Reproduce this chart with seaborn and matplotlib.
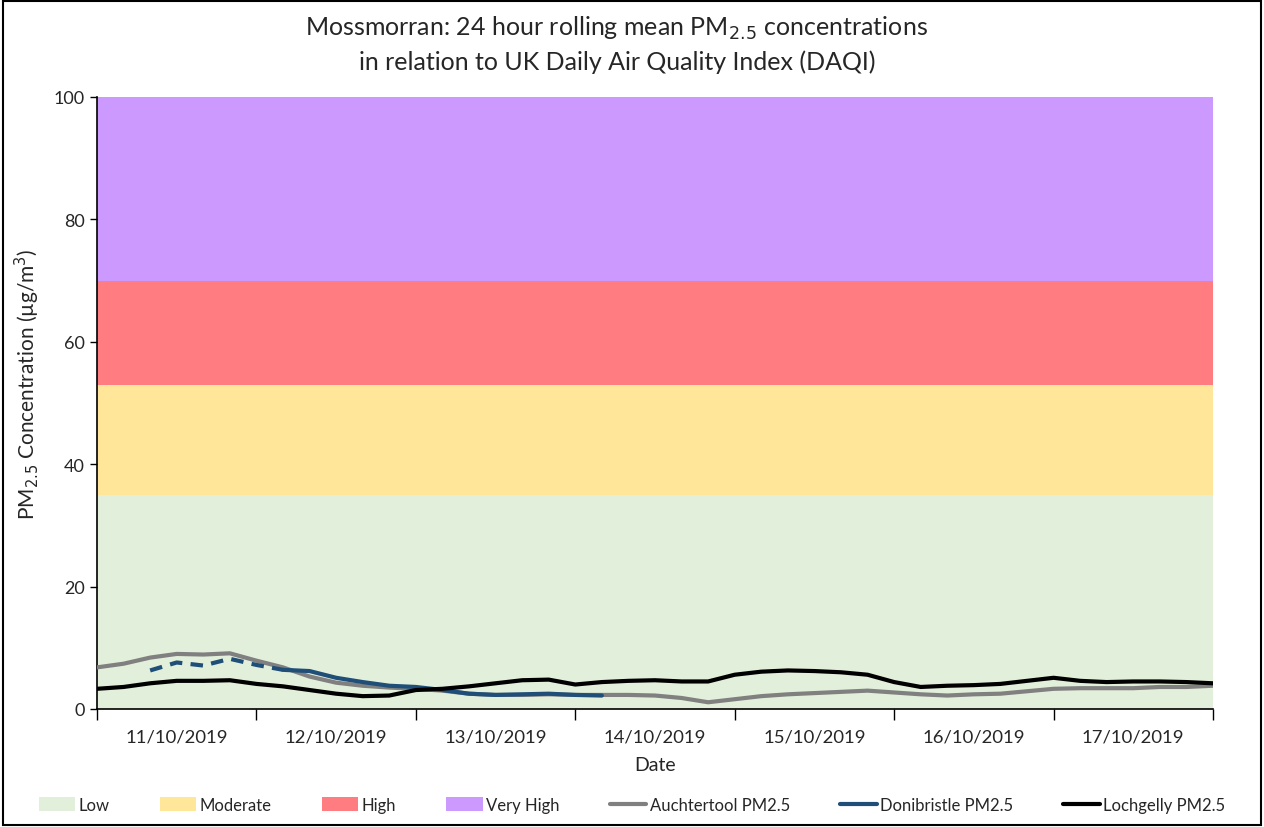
import numpy as np
import pandas as pd
import matplotlib
matplotlib.use("Agg")
import matplotlib.pyplot as plt
import matplotlib.dates as mdates
from matplotlib.patches import Patch, Rectangle
from matplotlib.lines import Line2D
import seaborn as sns

# ---- data ----
band_names = ["Low", "Moderate", "High", "Very High"]
band_lower = [0, 35, 53, 70]
band_upper = [35, 53, 70, 100]
band_colors = ["#E2EFDA", "#FFE699", "#FF7C80", "#CC99FF"]

start = pd.Timestamp("2019-10-11 00:00")
times = pd.date_range(start, periods=43, freq="4h")

auchtertool = [6.8, 7.4, 8.4, 9.0, 8.9, 9.1, 7.9, 6.8, 5.3, 4.3, 3.8, 3.5, 3.3,
               3.0, 2.5, 2.3, 2.3, 2.4, 2.3, 2.3, 2.3, 2.2, 1.8, 1.1, 1.6,
               2.1, 2.4, 2.6, 2.8, 3.0, 2.7, 2.4, 2.2, 2.4, 2.5, 2.9, 3.3,
               3.4, 3.4, 3.4, 3.6, 3.6, 3.8]

lochgelly = [3.3, 3.6, 4.2, 4.6, 4.6, 4.7, 4.1, 3.7, 3.1, 2.5, 2.1, 2.2, 3.1,
             3.3, 3.7, 4.2, 4.7, 4.8, 4.0, 4.4, 4.6, 4.7, 4.5, 4.5, 5.6,
             6.1, 6.3, 6.2, 6.0, 5.6, 4.4, 3.6, 3.8, 3.9, 4.1, 4.6, 5.1,
             4.6, 4.4, 4.5, 4.5, 4.4, 4.2]

# Donibristle: dashed (gappy) part then solid part
doni_dashed_idx = [2, 3, 4, 5, 6, 7]
doni_dashed = [6.3, 7.6, 7.1, 8.2, 7.2, 6.4]
doni_solid_idx = [7, 8, 9, 10, 11, 12, 13, 14, 15, 16, 17, 18, 19]
doni_solid = [6.4, 6.2, 5.1, 4.4, 3.8, 3.6, 3.1, 2.5, 2.3, 2.4, 2.5, 2.3, 2.2]

series_names = ["Auchtertool PM2.5", "Donibristle PM2.5", "Lochgelly PM2.5"]
series_colors = ["#808080", "#1F4E79", "#000000"]

yticks = [0, 20, 40, 60, 80, 100]

# ---- plot ----
sns.set_theme(style="white")
plt.rcParams["font.family"] = ["Lato", "DejaVu Sans"]

fig = plt.figure(figsize=(12.64, 8.28), dpi=100)
ax = fig.add_axes([97/1264, 1 - 710/828, (1213 - 97)/1264, (710 - 98)/828])

for lo, hi, c in zip(band_lower, band_upper, band_colors):
    ax.axhspan(lo, hi, color=c, lw=0, zorder=0)

lw = 3.0
df_a = pd.DataFrame({"t": times, "v": auchtertool})
df_l = pd.DataFrame({"t": times, "v": lochgelly})
df_dd = pd.DataFrame({"t": times[doni_dashed_idx], "v": doni_dashed})
df_ds = pd.DataFrame({"t": times[doni_solid_idx], "v": doni_solid})

sns.lineplot(data=df_a, x="t", y="v", ax=ax, color=series_colors[0], lw=lw, zorder=3)
sns.lineplot(data=df_dd, x="t", y="v", ax=ax, color=series_colors[1], lw=lw, zorder=4,
             linestyle=(0, (3, 2)))
sns.lineplot(data=df_ds, x="t", y="v", ax=ax, color=series_colors[1], lw=lw, zorder=4)
sns.lineplot(data=df_l, x="t", y="v", ax=ax, color=series_colors[2], lw=lw, zorder=5)

ax.set_xlim(start, start + pd.Timedelta(days=7))
ax.set_ylim(0, 100)
ax.set_yticks(yticks)
ax.tick_params(axis="y", labelsize=13, length=5, width=1, color="black", direction="out", left=True, pad=4)

ax.xaxis.set_major_locator(mdates.DayLocator())
ax.xaxis.set_major_formatter(plt.NullFormatter())
ax.xaxis.set_minor_locator(mdates.HourLocator(byhour=[12]))
ax.xaxis.set_minor_formatter(mdates.DateFormatter("%d/%m/%Y"))
ax.tick_params(axis="x", which="major", length=8, width=1, color="black", direction="out", bottom=True)
ax.tick_params(axis="x", which="minor", length=0, labelsize=13.3, pad=14)

for s in ["top", "right"]:
    ax.spines[s].set_visible(False)
for s in ["left", "bottom"]:
    ax.spines[s].set_color("black")
    ax.spines[s].set_linewidth(1.2)
ax.grid(False)

ax.set_xlabel("Date", fontsize=14, labelpad=8)
ax.set_ylabel("PM$_{2.5}$ Concentration (µg/m$^3$)", fontsize=15, va="center")
ax.yaxis.set_label_coords(-0.062, 0.533)

fig.text(0.488, 1 - 28/828, "Mossmorran: 24 hour rolling mean PM$_{2.5}$ concentrations",
         ha="center", va="center", fontsize=18)
fig.text(0.488, 1 - 62/828, "in relation to UK Daily Air Quality Index (DAQI)",
         ha="center", va="center", fontsize=18)

handles = [Patch(facecolor=c, edgecolor="none") for c in band_colors]
handles += [Line2D([0], [0], color=c, lw=3) for c in series_colors]
labels = band_names + series_names
fig.legend(handles, labels, loc="center", bbox_to_anchor=(0.5, 1 - 806/828), ncol=7,
           frameon=False, fontsize=12, handlelength=2.2, handletextpad=0.2,
           columnspacing=3.0, handleheight=0.9)

fig.add_artist(Rectangle((0.002, 0.002), 0.996, 0.996, transform=fig.transFigure,
                         fill=False, edgecolor="black", lw=1.5))

fig.savefig("out.png", dpi=100)
